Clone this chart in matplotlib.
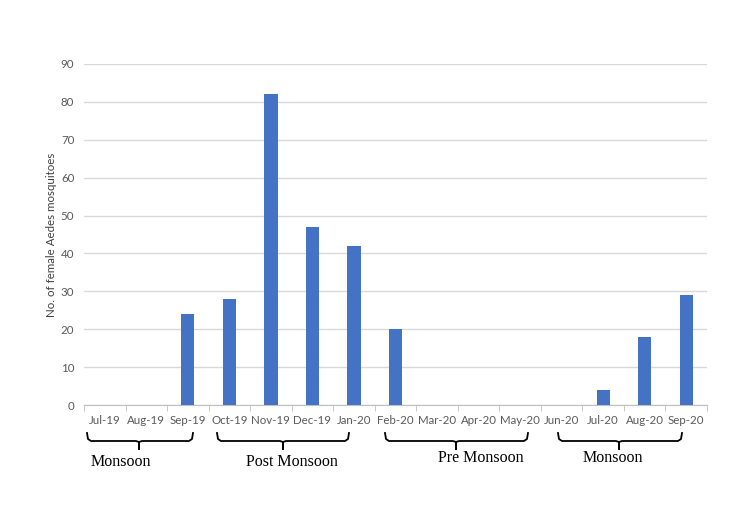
import matplotlib.pyplot as plt
import numpy as np

# data
months = ['Jul-19', 'Aug-19', 'Sep-19', 'Oct-19', 'Nov-19', 'Dec-19', 'Jan-20', 'Feb-20',
          'Mar-20', 'Apr-20', 'May-20', 'Jun-20', 'Jul-20', 'Aug-20', 'Sep-20']
counts = [0, 0, 24, 28, 82, 47, 42, 20, 0, 0, 0, 0, 4, 18, 29]

# season braces: (first month index, last month index, label)
seasons = [(0, 2, 'Monsoon'), (3, 6, 'Post Monsoon'), (7, 10, 'Pre Monsoon'), (11, 14, 'Monsoon')]

W, H = 750, 518
fig = plt.figure(figsize=(W / 100, H / 100), dpi=100)
ax = fig.add_axes([84 / W, 1 - 405 / H, (707 - 84) / W, (405 - 64) / H])

x = np.arange(len(months))
ax.bar(x, counts, width=0.32, color='#4472C4', zorder=3)

ax.set_xlim(-0.5, len(months) - 0.5)
ax.set_ylim(0, 90)
ax.set_yticks(range(0, 91, 10))
ax.yaxis.grid(True, color='#D9D9D9', linewidth=1, zorder=0)
ax.set_axisbelow(True)

for s in ['top', 'right', 'left']:
    ax.spines[s].set_visible(False)
ax.spines['bottom'].set_color('#BFBFBF')

ax.set_xticks(x)
ax.set_xticklabels(months)
ax.set_xticks(np.arange(-0.5, len(months)), minor=True)
ax.tick_params(axis='x', which='major', length=0, pad=7, labelsize=8.3, labelcolor='#595959')
ax.tick_params(axis='x', which='minor', length=4, color='#BFBFBF', direction='out')
ax.tick_params(axis='y', length=0, pad=7, labelsize=8.3, labelcolor='#595959')
for lab in ax.get_xticklabels() + ax.get_yticklabels():
    lab.set_fontfamily('Lato')

ax.set_ylabel('No. of female Aedes mosquitoes', fontsize=8.3, color='#404040', family='Lato')
ax.yaxis.set_label_coords(-0.044, 0.5)

# braces below the axis (pixel positions, y measured from top)
def px(xp, yp):
    return xp / W, 1 - yp / H

brace_x = [(87, 193, 139), (217, 349, 283), (385, 528, 456), (558, 682, 619)]
label_pos = [(121, 462), (292, 462), (481, 458), (613, 458)]

for (x0, x1, xc), (lx, ly), (_, _, name) in zip(brace_x, label_pos, seasons):
    xs = [x0, x0 + 1, x0 + 4, xc - 3, xc, xc, xc, xc + 3, x1 - 4, x1 - 1, x1]
    ys = [433, 439, 441, 441, 442, 449, 442, 441, 441, 439, 433]
    pts = [px(a, b) for a, b in zip(xs, ys)]
    fig.add_artist(plt.Line2D([p[0] for p in pts], [p[1] for p in pts],
                              transform=fig.transFigure, color='black', linewidth=1.3))
    fx, fy = px(lx, ly)
    fig.text(fx, fy, name, ha='center', va='center', fontsize=11.5,
             family='Liberation Serif', color='black')

fig.savefig('out.png', dpi=100, facecolor='white')
